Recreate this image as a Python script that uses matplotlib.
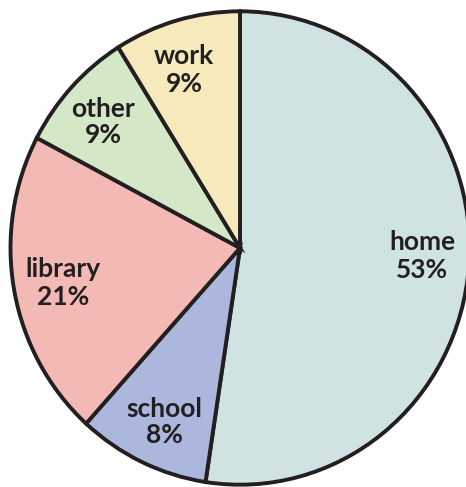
import matplotlib
matplotlib.use("Agg")
import matplotlib.pyplot as plt

labels = ["home", "school", "library", "other", "work"]
pct_labels = ["53%", "8%", "21%", "9%", "9%"]
# slice sizes as drawn in the picture (percent of the circle)
values = [52.4, 9.3, 21.0, 8.4, 8.9]
colors = ["#cfe3e3", "#abb7dd", "#f3b9b5", "#d4e7c6", "#f6eabd"]
# (x, word baseline y, percent baseline y) in data units
label_pos = [(0.793, -0.0085, -0.127),
             (-0.329, -0.714, -0.824),
             (-0.771, -0.1225, -0.241),
             (-0.595, 0.553, 0.444),
             (-0.244, 0.777, 0.659)]

W, H = 466, 487
fig = plt.figure(figsize=(W / 100, H / 100), dpi=100)
cx, cy, rx, ry = 240, 248, 229.5, 236.7
ax = fig.add_axes([(cx - rx) / W, (H - cy - ry) / H, 2 * rx / W, 2 * ry / H])
ax.pie(values, colors=colors, startangle=90, counterclock=False, radius=1,
       wedgeprops=dict(edgecolor="#231f20", linewidth=2.8))
ax.set_xlim(-1, 1)
ax.set_ylim(-1, 1)
ax.set_aspect("auto")
ax.axis("off")
for lab, pl, (x, yw, yp) in zip(labels, pct_labels, label_pos):
    for s, y in ((lab, yw), (pl, yp)):
        ax.text(x, y, s, ha="center", va="baseline", fontsize=19,
                fontweight="bold", family="Lato", color="#231f20")
fig.savefig("out.png", dpi=100)
